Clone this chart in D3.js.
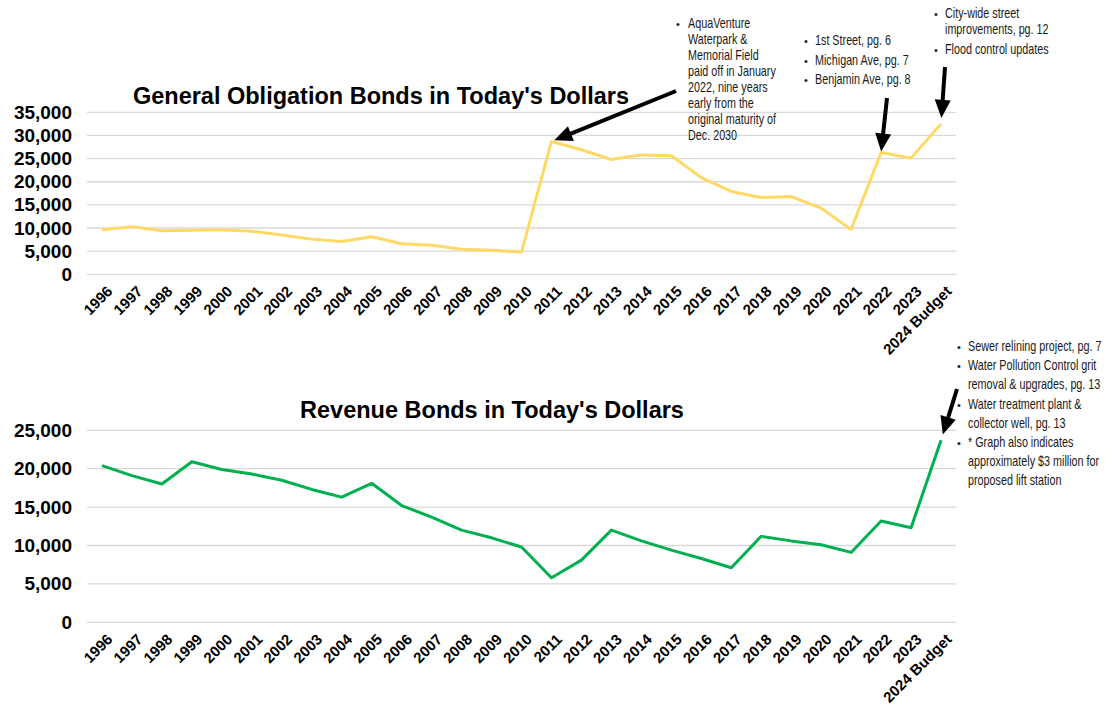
<!DOCTYPE html>
<html lang="en">
  <head>
    <meta charset="UTF-8" />
    <title>Bonds in Today's Dollars</title>
    <script src="https://cdn.jsdelivr.net/npm/d3@7"></script>
    <style>
      body { margin: 0; background: #fff; }
      .tick-lbl { font-family: "Liberation Sans", Arial, sans-serif; font-weight: bold; fill: #000; }
      .note { font-family: "Liberation Sans", Arial, sans-serif; font-size: 14px; fill: #1a1a1a; }
    </style>
  </head>
  <body>
    <script>
    // years on both charts
    const years = ["1996","1997","1998","1999","2000","2001","2002","2003","2004","2005",
      "2006","2007","2008","2009","2010","2011","2012","2013","2014","2015","2016",
      "2017","2018","2019","2020","2021","2022","2023","2024 Budget"];

    // general obligation bonds (today's dollars, thousands)
    const goValues = [9600,10300,9400,9500,9650,9300,8500,7600,7100,8100,
      6600,6300,5400,5200,4800,28700,26900,24800,25800,25600,20900,
      17900,16600,16800,14300,9700,26300,25100,32500];

    // revenue bonds
    const revValues = [20400,19100,18000,20900,19900,19300,18500,17300,16300,18100,
      15200,13700,12000,11000,9800,5800,8100,12000,10600,9400,8300,
      7100,11200,10600,10100,9100,13200,12300,23700];

    const goTicks = [0,5000,10000,15000,20000,25000,30000,35000];
    const revTicks = [0,5000,10000,15000,20000,25000];

    const goNotes = [
      ["AquaVenture","Waterpark &","Memorial Field","paid off in January","2022, nine years","early from the","original maturity of","Dec. 2030"]
    ];
    const streetNotes = [["1st Street, pg. 6"],["Michigan Ave, pg. 7"],["Benjamin Ave, pg. 8"]];
    const budgetNotes = [["City-wide street","improvements, pg. 12"],["Flood control updates"]];
    const revNotes = [
      ["Sewer relining project, pg. 7"],
      ["Water Pollution Control grit","removal & upgrades, pg. 13"],
      ["Water treatment plant &","collector well, pg. 13"],
      ["* Graph also indicates","approximately $3 million for","proposed lift station"]
    ];

    const W = 1118, H = 715;
    const svg = d3.select("body").append("svg").attr("width", W).attr("height", H);

    const x = d3.scalePoint().domain(years).range([87, 956]).padding(0.5);

    function drawChart(values, ticks, top, bottom, color, title, titleX, titleY) {
      const y = d3.scaleLinear().domain([0, d3.max(ticks)]).range([bottom, top]);
      const g = svg.append("g");

      // gridlines
      g.selectAll(".grid").data(ticks).join("line")
        .attr("x1", 87).attr("x2", 956)
        .attr("y1", d => y(d)).attr("y2", d => y(d))
        .attr("stroke", "#d9d9d9").attr("stroke-width", 1.3);

      // y axis labels
      const ya = g.append("g").attr("transform", "translate(87,0)")
        .call(d3.axisLeft(y).tickValues(ticks).tickFormat(d3.format(",")).tickSize(0).tickPadding(15));
      ya.select(".domain").remove();
      ya.selectAll("text").attr("class", "tick-lbl").style("font-size", "19px");

      // x axis labels, rotated
      const xa = g.append("g").attr("transform", "translate(0," + bottom + ")")
        .call(d3.axisBottom(x).tickSize(0));
      xa.select(".domain").remove();
      xa.selectAll("text").attr("class", "tick-lbl").style("font-size", "15px")
        .attr("x", 0).attr("y", 0).attr("dy", 0)
        .attr("text-anchor", "end")
        .attr("transform", "translate(11,18) rotate(-45)");

      // the line
      const line = d3.line().x((d, i) => x(years[i])).y(d => y(d));
      g.append("path").datum(values)
        .attr("d", line)
        .attr("fill", "none")
        .attr("stroke", color)
        .attr("stroke-width", 3)
        .attr("stroke-linejoin", "round");

      g.append("text")
        .attr("x", titleX).attr("y", titleY)
        .attr("text-anchor", "middle")
        .attr("class", "tick-lbl")
        .style("font-size", "23.5px")
        .text(title);

      return y;
    }

    const yGo = drawChart(goValues, goTicks, 112.3, 274.3, "#ffd966",
      "General Obligation Bonds in Today's Dollars", 381, 104);
    const yRev = drawChart(revValues, revTicks, 430.3, 622.3, "#00b050",
      "Revenue Bonds in Today's Dollars", 492, 418);

    // bullet notes: groups of lines, bullet on the first line of each group.
    // the text is squeezed sideways to look like a condensed face
    function notes(groups, bx, tx, y0, lineH, gap) {
      let yy = y0;
      groups.forEach(function (grp) {
        svg.append("text").attr("class", "note").attr("x", bx).attr("y", yy)
          .style("font-size", "11px").text("•");
        grp.forEach(function (s) {
          svg.append("text").attr("class", "note")
            .attr("transform", "translate(" + tx + "," + yy + ") scale(0.77,1)")
            .text(s);
          yy += lineH;
        });
        yy += gap;
      });
    }
    notes(goNotes, 676, 688, 28, 16, 0);
    notes(streetNotes, 804, 815, 45, 19.5, 0);
    notes(budgetNotes, 934, 945, 18, 16, 4);
    notes(revNotes, 957, 968, 351, 19.2, 0);

    // arrows pointing at data points
    function arrow(x1, y1, px, py, back) {
      const dx = px - x1, dy = py - y1, len = Math.sqrt(dx * dx + dy * dy);
      const ux = dx / len, uy = dy / len;
      const tx = px - ux * back, ty = py - uy * back;   // tip, a bit off the point
      const hl = 18, hw = 8;
      const bxp = tx - ux * hl, byp = ty - uy * hl;
      svg.append("line")
        .attr("x1", x1).attr("y1", y1).attr("x2", bxp + ux * 2).attr("y2", byp + uy * 2)
        .attr("stroke", "#000").attr("stroke-width", 4);
      svg.append("path")
        .attr("d", "M" + tx + "," + ty +
          "L" + (bxp - uy * hw) + "," + (byp + ux * hw) +
          "L" + (bxp + uy * hw) + "," + (byp - ux * hw) + "Z")
        .attr("fill", "#000");
    }
    arrow(676, 91, x("2011"), yGo(goValues[15]), 3);
    arrow(887, 98, x("2022"), yGo(goValues[26]), 1);
    arrow(945, 67, x("2024 Budget"), yGo(goValues[28]), 6);
    arrow(957, 389, x("2024 Budget"), yRev(revValues[28]), 6);
    </script>
  </body>
</html>
